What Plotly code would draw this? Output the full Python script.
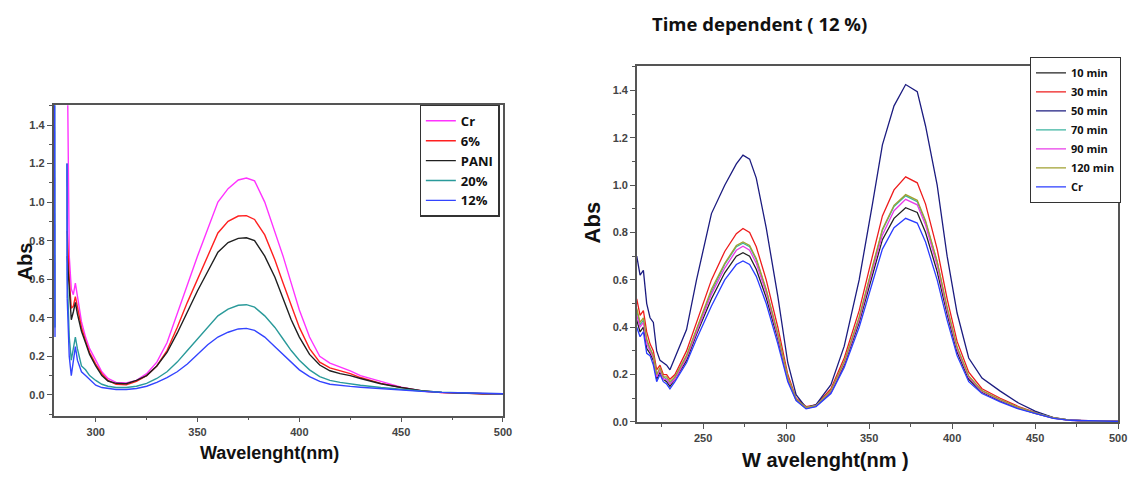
import plotly.graph_objects as go

# ---------------- Left chart data ----------------
WL_L = [286, 287, 288, 289, 290, 291, 293, 295, 297, 300, 303, 306, 310, 315, 320, 325, 330, 335,
        340, 345, 350, 355, 360, 365, 370, 374, 378, 383, 388, 392, 396, 400, 405, 410, 415, 420,
        425, 430, 440, 450, 460, 470, 480, 490, 500]
CR_L = [1.8, 0.72, 0.55, 0.52, 0.58, 0.52, 0.38, 0.30, 0.24, 0.18, 0.12, 0.085, 0.065, 0.062, 0.075,
        0.11, 0.17, 0.27, 0.42, 0.58, 0.72, 0.86, 1.0, 1.07, 1.115, 1.125, 1.11, 1.0, 0.85, 0.72, 0.58,
        0.44, 0.30, 0.20, 0.165, 0.145, 0.125, 0.10, 0.068, 0.04, 0.02, 0.012, 0.009, 0.006, 0.005]
P6_L = [0.85, 0.60, 0.45, 0.46, 0.51, 0.45, 0.35, 0.28, 0.22, 0.16, 0.11, 0.075, 0.055, 0.052, 0.07,
        0.10, 0.15, 0.23, 0.35, 0.48, 0.60, 0.72, 0.84, 0.90, 0.928, 0.93, 0.91, 0.83, 0.70, 0.58, 0.46,
        0.35, 0.24, 0.17, 0.14, 0.125, 0.11, 0.09, 0.06, 0.038, 0.02, 0.012, 0.008, 0.006, 0.005]
PANI_L = [0.72, 0.55, 0.39, 0.43, 0.48, 0.42, 0.33, 0.27, 0.21, 0.15, 0.10, 0.072, 0.06, 0.058, 0.075,
          0.10, 0.15, 0.22, 0.32, 0.43, 0.54, 0.64, 0.74, 0.79, 0.812, 0.815, 0.80, 0.72, 0.61, 0.50, 0.39,
          0.30, 0.21, 0.155, 0.125, 0.11, 0.10, 0.085, 0.058, 0.038, 0.022, 0.013, 0.009, 0.006, 0.005]
P20_L = [0.62, 0.30, 0.18, 0.24, 0.30, 0.24, 0.15, 0.13, 0.10, 0.075, 0.055, 0.045, 0.038, 0.038, 0.045,
         0.06, 0.085, 0.12, 0.17, 0.23, 0.29, 0.35, 0.41, 0.445, 0.465, 0.468, 0.455, 0.41, 0.35, 0.29, 0.23,
         0.18, 0.13, 0.095, 0.075, 0.065, 0.057, 0.05, 0.038, 0.028, 0.02, 0.014, 0.01, 0.008, 0.006]
P12_L = [0.50, 0.20, 0.10, 0.18, 0.25, 0.18, 0.12, 0.10, 0.08, 0.05, 0.038, 0.033, 0.028, 0.028, 0.033,
         0.045, 0.065, 0.09, 0.12, 0.16, 0.21, 0.26, 0.30, 0.325, 0.342, 0.345, 0.335, 0.30, 0.25, 0.21, 0.17,
         0.13, 0.095, 0.07, 0.055, 0.048, 0.044, 0.04, 0.032, 0.025, 0.018, 0.013, 0.01, 0.008, 0.006]
# steep edge segments at the start of the 20% and 12% scans
EDGE_X = [279.8, 280.0, 285.9, 286.0]
P20_EDGE = [1.8, 0.35, 1.2, 0.62]
P12_EDGE = [1.8, 0.30, 1.2, 0.50]

LEFT_NAMES = ["Cr", "6%", "PANI", "20%", "12%"]
LEFT_COLORS = ["#ff33ff", "#ff2020", "#202020", "#2a9a9a", "#3344ff"]

# ---------------- Right chart data ----------------
WL_R = [210, 212, 214, 216, 218, 220, 222, 224, 226, 228, 230, 233, 240, 246, 255, 263, 270, 274, 278,
        282, 288, 295, 301, 306, 312, 318, 327, 335, 344, 352, 358, 365, 372, 379, 384, 391, 397, 403,
        410, 418, 429, 440, 450, 461, 471, 482, 500]
T10 = [0.43, 0.38, 0.40, 0.31, 0.29, 0.26, 0.18, 0.21, 0.18, 0.17, 0.15, 0.18, 0.26, 0.37, 0.52, 0.63,
       0.70, 0.715, 0.70, 0.645, 0.525, 0.35, 0.178, 0.093, 0.058, 0.067, 0.125, 0.24, 0.42, 0.62, 0.77,
       0.86, 0.905, 0.885, 0.80, 0.635, 0.455, 0.295, 0.18, 0.125, 0.089, 0.058, 0.036, 0.016, 0.007,
       0.004, 0.002]
T30 = [0.52, 0.45, 0.47, 0.38, 0.33, 0.30, 0.22, 0.24, 0.20, 0.20, 0.18, 0.20, 0.30, 0.42, 0.60, 0.72,
       0.795, 0.817, 0.80, 0.74, 0.60, 0.40, 0.20, 0.10, 0.065, 0.072, 0.14, 0.27, 0.47, 0.70, 0.87, 0.98,
       1.035, 1.01, 0.92, 0.73, 0.52, 0.34, 0.21, 0.14, 0.10, 0.065, 0.04, 0.018, 0.008, 0.005, 0.003]
T50 = [0.70, 0.62, 0.64, 0.50, 0.44, 0.42, 0.30, 0.26, 0.25, 0.24, 0.22, 0.27, 0.39, 0.60, 0.88, 1.0,
       1.09, 1.127, 1.11, 1.03, 0.82, 0.53, 0.25, 0.115, 0.06, 0.073, 0.157, 0.32, 0.60, 0.92, 1.17,
       1.335, 1.425, 1.395, 1.25, 1.0, 0.70, 0.46, 0.27, 0.185, 0.13, 0.08, 0.046, 0.018, 0.008, 0.004,
       0.002]
T70 = [0.47, 0.41, 0.43, 0.34, 0.31, 0.28, 0.20, 0.22, 0.19, 0.18, 0.16, 0.19, 0.28, 0.39, 0.55, 0.665,
       0.74, 0.755, 0.74, 0.685, 0.555, 0.37, 0.187, 0.096, 0.06, 0.069, 0.132, 0.253, 0.44, 0.65, 0.81,
       0.91, 0.955, 0.93, 0.845, 0.675, 0.48, 0.313, 0.192, 0.131, 0.093, 0.061, 0.038, 0.017, 0.008,
       0.004, 0.002]
T90 = [0.45, 0.40, 0.42, 0.33, 0.30, 0.27, 0.19, 0.22, 0.18, 0.18, 0.16, 0.18, 0.27, 0.38, 0.54, 0.65,
       0.725, 0.742, 0.725, 0.67, 0.545, 0.36, 0.183, 0.095, 0.06, 0.068, 0.129, 0.248, 0.43, 0.64, 0.79,
       0.892, 0.94, 0.917, 0.832, 0.66, 0.47, 0.307, 0.188, 0.129, 0.092, 0.06, 0.037, 0.016, 0.007,
       0.004, 0.002]
T120 = [0.48, 0.42, 0.44, 0.35, 0.31, 0.28, 0.20, 0.23, 0.19, 0.19, 0.17, 0.19, 0.28, 0.39, 0.56, 0.67,
        0.745, 0.76, 0.745, 0.69, 0.56, 0.372, 0.188, 0.096, 0.061, 0.069, 0.132, 0.254, 0.442, 0.656,
        0.814, 0.915, 0.96, 0.936, 0.85, 0.678, 0.484, 0.316, 0.194, 0.132, 0.094, 0.061, 0.038, 0.017,
        0.008, 0.004, 0.002]
TCR = [0.40, 0.36, 0.38, 0.29, 0.28, 0.24, 0.17, 0.20, 0.17, 0.16, 0.14, 0.17, 0.25, 0.35, 0.49, 0.60,
       0.665, 0.68, 0.665, 0.615, 0.50, 0.33, 0.17, 0.09, 0.055, 0.065, 0.12, 0.23, 0.40, 0.59, 0.73,
       0.82, 0.86, 0.84, 0.76, 0.60, 0.43, 0.28, 0.17, 0.12, 0.085, 0.055, 0.035, 0.015, 0.007, 0.004,
       0.002]

RIGHT_NAMES = ["10 min", "30 min", "50 min", "70 min", "90 min", "120 min", "Cr"]
RIGHT_COLORS = ["#222222", "#ee1c1c", "#1c1c80", "#3cb4a0", "#e83ce8", "#a0a030", "#2a3cff"]

X_TICKS_L = [300, 350, 400, 450, 500]
Y_TICKS = [0.0, 0.2, 0.4, 0.6, 0.8, 1.0, 1.2, 1.4]
X_TICKS_R = [250, 300, 350, 400, 450, 500]

W, H = 1138, 477

fig = go.Figure()

left_series = [CR_L, P6_L, PANI_L, P20_L, P12_L]
for name, col, ys in zip(LEFT_NAMES, LEFT_COLORS, left_series):
    fig.add_trace(go.Scatter(x=WL_L, y=ys, mode="lines", name=name,
                             line=dict(color=col, width=1.4),
                             xaxis="x", yaxis="y", legend="legend"))
fig.add_trace(go.Scatter(x=EDGE_X[:2] + [None] + EDGE_X[2:], y=P20_EDGE[:2] + [None] + P20_EDGE[2:],
                         mode="lines", line=dict(color=LEFT_COLORS[3], width=1.4), showlegend=False,
                         xaxis="x", yaxis="y"))
fig.add_trace(go.Scatter(x=EDGE_X[:2] + [None] + EDGE_X[2:], y=P12_EDGE[:2] + [None] + P12_EDGE[2:],
                         mode="lines", line=dict(color=LEFT_COLORS[4], width=1.4), showlegend=False,
                         xaxis="x", yaxis="y"))

right_series = [T10, T30, T50, T70, T90, T120, TCR]
for name, col, ys in zip(RIGHT_NAMES, RIGHT_COLORS, right_series):
    fig.add_trace(go.Scatter(x=WL_R, y=ys, mode="lines", name=name,
                             line=dict(color=col, width=1.3),
                             xaxis="x2", yaxis="y2", legend="legend2"))

tickfont = dict(family="Liberation Sans, Arial", size=11, color="#444444", weight="bold")
axis_common = dict(showline=True, linecolor="#555555", linewidth=1.5, mirror=True,
                   ticks="outside", ticklen=5, tickwidth=1.2, tickcolor="#555555",
                   showgrid=False, zeroline=False, tickfont=tickfont)

fig.update_layout(
    width=W, height=H, margin=dict(l=0, r=0, t=0, b=0),
    paper_bgcolor="white", plot_bgcolor="white",
    xaxis=dict(domain=[54 / W, 507 / W], range=[279.3, 500], tickvals=X_TICKS_L,
               minor=dict(dtick=25, ticks="outside", ticklen=3, tickcolor="#555555"),
               anchor="y", **axis_common),
    yaxis=dict(domain=[(H - 421) / H, (H - 106.7) / H], range=[-0.108, 1.502], tickvals=Y_TICKS,
               tickformat=".1f",
               minor=dict(dtick=0.1, ticks="outside", ticklen=3, tickcolor="#555555"),
               anchor="x", **axis_common),
    xaxis2=dict(domain=[642 / W, 1127 / W], range=[210.1, 500], tickvals=X_TICKS_R,
                minor=dict(dtick=25, ticks="outside", ticklen=3, tickcolor="#555555"),
                anchor="y2", **axis_common),
    yaxis2=dict(domain=[(H - 427.3) / H, (H - 66.7) / H], range=[0, 1.504], tickvals=Y_TICKS,
                tickformat=".1f",
                minor=dict(dtick=0.1, ticks="outside", ticklen=3, tickcolor="#555555"),
                anchor="x2", **axis_common),
    legend=dict(x=423 / W, y=(H - 106) / H, xanchor="left", yanchor="top",
                bgcolor="white", bordercolor="#333333", borderwidth=1.2,
                font=dict(family="Open Sans, Liberation Sans", size=13, color="#111111", weight="bold"),
                itemwidth=30, tracegroupgap=0),
    legend2=dict(x=1038 / W, y=(H - 58) / H, xanchor="left", yanchor="top",
                 bgcolor="white", bordercolor="#333333", borderwidth=1.2,
                 font=dict(family="Open Sans, Liberation Sans", size=11, color="#111111", weight="bold"),
                 itemwidth=30, tracegroupgap=0),
    showlegend=True,
)

annots = [
    dict(text="Abs", x=25 / W, y=(H - 265) / H, textangle=-90,
         font=dict(family="Liberation Sans, Arial", size=20, color="#111111", weight="bold")),
    dict(text="Wavelenght(nm)", x=272 / W, y=(H - 459) / H,
         font=dict(family="Liberation Sans, Arial", size=18, color="#111111", weight="bold")),
    dict(text="Abs", x=597 / W, y=(H - 225) / H, textangle=-90,
         font=dict(family="Liberation Sans, Arial", size=22, color="#111111", weight="bold")),
    dict(text="W avelenght(nm )", x=832 / W, y=(H - 466) / H,
         font=dict(family="Liberation Sans, Arial", size=20, color="#111111", weight="bold")),
    dict(text="Time dependent ( 12 %)", x=655 / W, y=(H - 24) / H, xanchor="left",
         font=dict(family="Open Sans, Liberation Sans", size=18.5, color="#111111", weight="bold")),
]
for a in annots:
    a.setdefault("xanchor", "center")
    fig.add_annotation(xref="paper", yref="paper", showarrow=False, yanchor="middle", **a)

fig.write_html("out.html", config={"displayModeBar": False},
               post_script="document.body.style.margin='0';document.body.style.overflow='hidden';"
                           "document.documentElement.style.overflow='hidden';")
